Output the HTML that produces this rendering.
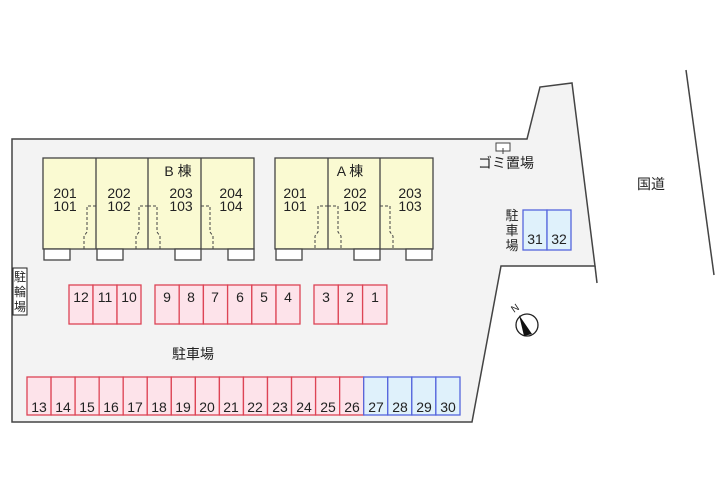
<!DOCTYPE html>
<html><head><meta charset="utf-8"><style>
body{margin:0;background:#fff}
svg text{font-family:"Liberation Sans","Noto Sans CJK JP",sans-serif;fill:#222}
</style></head><body>
<svg width="720" height="480" viewBox="0 0 720 480" xmlns="http://www.w3.org/2000/svg">
<rect width="720" height="480" fill="#fff"/>
<polygon points="12,139 527,139 540,87 572,83 595,266 501,266 472,422 12,422" fill="#f3f3f3" stroke="#444" stroke-width="1.5"/>
<line x1="595" y1="266" x2="597" y2="283" stroke="#444" stroke-width="1.5"/>
<line x1="686" y1="70" x2="714" y2="275" stroke="#444" stroke-width="1.5"/>
<text x="651" y="189" font-size="14" text-anchor="middle">国道</text>
<!-- B building -->
<g stroke="#444" stroke-width="1.3">
<rect x="43" y="158" width="211" height="91" fill="#fafad2"/>
<line x1="96" y1="158" x2="96" y2="249"/><line x1="148" y1="158" x2="148" y2="249"/><line x1="201" y1="158" x2="201" y2="249"/>
<rect x="44" y="249" width="26" height="11" fill="#fff"/><rect x="97" y="249" width="26" height="11" fill="#fff"/>
<rect x="175" y="249" width="26" height="11" fill="#fff"/><rect x="228" y="249" width="26" height="11" fill="#fff"/>
<rect x="275" y="158" width="158" height="91" fill="#fafad2"/>
<line x1="328" y1="158" x2="328" y2="249"/><line x1="380" y1="158" x2="380" y2="249"/>
<rect x="276" y="249" width="26" height="11" fill="#fff"/><rect x="354" y="249" width="26" height="11" fill="#fff"/><rect x="406" y="249" width="26" height="11" fill="#fff"/>
</g>
<g fill="none" stroke="#444" stroke-width="1" stroke-dasharray="3,2">
<path d="M96,206 H87 V232 L84,236 V249"/>
<path d="M148,206 H139 V232 L136,236 V249 M148,206 H157 V232 L160,236 V249"/>
<path d="M201,206 H210 V232 L213,236 V249"/>
<path d="M328,206 H318 V232 L315,236 V249 M328,206 H338 V232 L341,236 V249"/>
<path d="M380,206 H390 V232 L393,236 V249"/>
</g>
<g font-size="14" text-anchor="middle">
<text x="178" y="176">B 棟</text>
<text x="65" y="198">201</text><text x="65" y="211">101</text>
<text x="119" y="198">202</text><text x="119" y="211">102</text>
<text x="181" y="198">203</text><text x="181" y="211">103</text>
<text x="231" y="198">204</text><text x="231" y="211">104</text>
<text x="350" y="176">A 棟</text>
<text x="295" y="198">201</text><text x="295" y="211">101</text>
<text x="355" y="198">202</text><text x="355" y="211">102</text>
<text x="410" y="198">203</text><text x="410" y="211">103</text>
</g>
<!-- gomi -->
<rect x="496" y="143" width="14" height="8" fill="#fff" stroke="#444"/>
<line x1="503" y1="148" x2="503" y2="154" stroke="#444"/>
<text x="506" y="168" font-size="14" text-anchor="middle">ゴミ置場</text>
<g font-size="13" text-anchor="middle"><text x="512" y="220">駐</text><text x="512" y="235">車</text><text x="512" y="250">場</text></g>
<g stroke="#5566dd" stroke-width="1.3" fill="#dff1fb"><rect x="523" y="210" width="24" height="40"/><rect x="547" y="210" width="24" height="40"/></g>
<g font-size="14" text-anchor="middle"><text x="535" y="244">31</text><text x="559" y="244">32</text></g>
<!-- bicycle -->
<rect x="13" y="268" width="14" height="47" fill="#fff" stroke="#222"/>
<g font-size="12" text-anchor="middle"><text x="20" y="281">駐</text><text x="20" y="296">輪</text><text x="20" y="311">場</text></g>
<!-- compass -->
<circle cx="527" cy="325" r="11" fill="#fff" stroke="#222" stroke-width="1.3"/>
<polygon points="519,315 532,334 524,336" fill="#111"/>
<text x="514" y="313" font-size="10" transform="rotate(-35 514 313)">N</text>
<text x="193" y="359" font-size="14" text-anchor="middle">駐車場</text>
<g id="p" stroke="#dd4455" stroke-width="1.3" fill="#fde3ea">
<rect x="69" y="285" width="24" height="39"/><rect x="93" y="285" width="24" height="39"/><rect x="117" y="285" width="24" height="39"/>
<rect x="155" y="285" width="24.2" height="39"/><rect x="179.2" y="285" width="24.2" height="39"/><rect x="203.4" y="285" width="24.2" height="39"/><rect x="227.6" y="285" width="24.2" height="39"/><rect x="251.8" y="285" width="24.2" height="39"/><rect x="276" y="285" width="24" height="39"/>
<rect x="314" y="285" width="24.3" height="39"/><rect x="338.3" y="285" width="24.3" height="39"/><rect x="362.6" y="285" width="24.3" height="39"/>
</g>
<g font-size="14" text-anchor="middle">
<text x="81" y="302">12</text><text x="105" y="302">11</text><text x="129" y="302">10</text>
<text x="167" y="302">9</text><text x="191" y="302">8</text><text x="215" y="302">7</text><text x="240" y="302">6</text><text x="264" y="302">5</text><text x="288" y="302">4</text>
<text x="326" y="302">3</text><text x="350" y="302">2</text><text x="375" y="302">1</text>
</g>
<g stroke-width="1.3">
<g stroke="#dd4455" fill="#fde3ea">
<rect x="27" y="377" width="24.05" height="38"/><rect x="51.05" y="377" width="24.05" height="38"/><rect x="75.1" y="377" width="24.05" height="38"/><rect x="99.15" y="377" width="24.05" height="38"/><rect x="123.2" y="377" width="24.05" height="38"/><rect x="147.25" y="377" width="24.05" height="38"/><rect x="171.3" y="377" width="24.05" height="38"/><rect x="195.35" y="377" width="24.05" height="38"/><rect x="219.4" y="377" width="24.05" height="38"/><rect x="243.45" y="377" width="24.05" height="38"/><rect x="267.5" y="377" width="24.05" height="38"/><rect x="291.55" y="377" width="24.05" height="38"/><rect x="315.6" y="377" width="24.05" height="38"/><rect x="339.65" y="377" width="24.05" height="38"/>
</g>
<g stroke="#5566dd" fill="#dff1fb">
<rect x="363.7" y="377" width="24.05" height="38"/><rect x="387.75" y="377" width="24.05" height="38"/><rect x="411.8" y="377" width="24.05" height="38"/><rect x="435.85" y="377" width="24.15" height="38"/>
</g>
</g>
<g font-size="14" text-anchor="middle">
<text x="39" y="412">13</text><text x="63" y="412">14</text><text x="87" y="412">15</text><text x="111" y="412">16</text><text x="135" y="412">17</text><text x="159" y="412">18</text><text x="183" y="412">19</text><text x="207" y="412">20</text><text x="231" y="412">21</text><text x="255" y="412">22</text><text x="280" y="412">23</text><text x="304" y="412">24</text><text x="328" y="412">25</text><text x="352" y="412">26</text><text x="376" y="412">27</text><text x="400" y="412">28</text><text x="424" y="412">29</text><text x="448" y="412">30</text>
</g>
</svg>
</body></html>
